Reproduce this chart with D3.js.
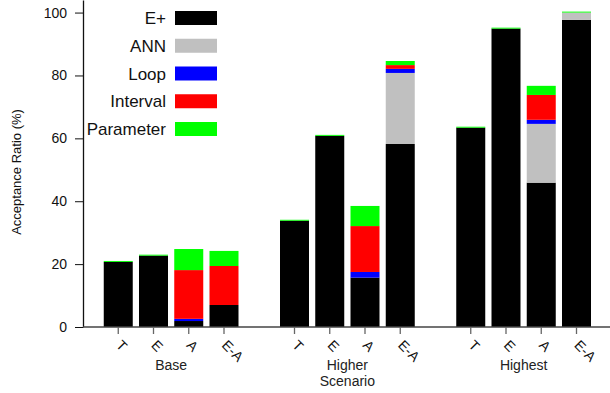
<!DOCTYPE html>
<html>
<head>
	<meta charset="utf-8">
	<script src="https://d3js.org/d3.v7.min.js"></script>
	<style>
		body { margin: 0; background: white; }
		svg { display: block; font-family: "Liberation Sans", Arial, sans-serif; }
	</style>
</head>
<body>
<script>

// categories
var groups = ["Base", "Higher", "Highest"];
var methods = ["T", "E", "A", "E-A"];
var series = ["E+", "ANN", "Loop", "Interval", "Parameter"];
var colors = ["#000000", "#c0c0c0", "#0000ff", "#ff0000", "#00ff00"];
var yTicks = [0, 20, 40, 60, 80, 100];

// values per series, order: Base T,E,A,E-A | Higher T,E,A,E-A | Highest T,E,A,E-A
var ePlus     = [20.7, 22.7, 1.9, 7.0,   33.8, 60.8, 15.7, 58.2,   63.4, 94.9, 45.9, 97.7];
var ann       = [0, 0, 0, 0,             0, 0, 0, 22.6,            0, 0, 18.7, 2.3];
var loop      = [0, 0, 0.7, 0,           0, 0, 1.8, 1.3,           0, 0, 1.3, 0];
var interval  = [0, 0, 15.5, 12.4,       0, 0, 14.6, 1.2,          0, 0, 7.9, 0];
var parameter = [0.3, 0.3, 6.7, 4.8,     0.3, 0.3, 6.4, 1.3,       0.3, 0.3, 2.9, 0.3];

var width = 610, height = 393;

var svg = d3.select("body").append("svg")
	.attr("width", width)
	.attr("height", height);

// build rows: slot index leaves an empty slot between groups
var rows = [];
groups.forEach(function(g, gi) {
	methods.forEach(function(m, mi) {
		var i = gi * methods.length + mi;
		rows.push({
			group: g, method: m, slot: gi * 5 + mi,
			"E+": ePlus[i], "ANN": ann[i], "Loop": loop[i],
			"Interval": interval[i], "Parameter": parameter[i]
		});
	});
});

var x = d3.scaleLinear()
	.domain([-1, 14])
	.range([83, 611.75]);

var y = d3.scaleLinear()
	.domain([0, 104])
	.range([327, 0]);

var barW = 29;

var color = d3.scaleOrdinal().domain(series).range(colors);

var stack = d3.stack().keys(series);
var layers = stack(rows);

svg.append("g").selectAll("g")
	.data(layers)
	.enter().append("g")
	.attr("fill", function(d) { return color(d.key); })
	.selectAll("rect")
	.data(function(d) { return d; })
	.enter().append("rect")
	.attr("x", function(d) { return x(d.data.slot) - barW / 2; })
	.attr("width", barW)
	.attr("y", function(d) { return y(d[1]); })
	.attr("height", function(d) { return y(d[0]) - y(d[1]); });

// y axis
var yAxis = svg.append("g")
	.attr("transform", "translate(83,0)")
	.call(d3.axisLeft(y).tickValues(yTicks).tickSize(8).tickPadding(8).tickSizeOuter(0));
yAxis.select(".domain").attr("stroke", "#111").attr("stroke-width", 1.3);
yAxis.selectAll(".tick line").attr("stroke", "#111");
yAxis.selectAll(".tick text").attr("font-size", 14).attr("fill", "#111")
	.attr("font-family", "Liberation Sans, Arial, sans-serif");

// x axis
var xAxis = svg.append("g").attr("transform", "translate(0,327)");
xAxis.append("line")
	.attr("x1", x.range()[0]).attr("x2", x.range()[1])
	.attr("stroke", "#444").attr("stroke-width", 1.3);
var xt = xAxis.selectAll(".xtick")
	.data(rows)
	.enter().append("g")
	.attr("class", "xtick")
	.attr("transform", function(d) { return "translate(" + x(d.slot) + ",0)"; });
xt.append("line").attr("y1", 0).attr("y2", 7).attr("stroke", "#666").attr("stroke-width", 1.3);
xt.append("text")
	.attr("transform", "translate(-3,19) rotate(45)")
	.attr("font-size", 14)
	.attr("fill", "#111")
	.text(function(d) { return d.method; });

// group labels
svg.selectAll(".glabel")
	.data(groups)
	.enter().append("text")
	.attr("class", "glabel")
	.attr("x", function(d, i) { return x(i * 5 + 1.5); })
	.attr("y", 370)
	.attr("text-anchor", "middle")
	.attr("font-size", 14)
	.attr("fill", "#222")
	.text(function(d) { return d; });

// axis title, under the middle group
svg.append("text")
	.attr("x", x(6.5))
	.attr("y", 386)
	.attr("text-anchor", "middle")
	.attr("font-size", 14)
	.attr("fill", "#222")
	.text("Scenario");

svg.append("text")
	.attr("transform", "translate(21,172) rotate(-90)")
	.attr("text-anchor", "middle")
	.attr("font-size", 13)
	.attr("fill", "#111")
	.text("Acceptance Ratio (%)");

// legend
var legend = svg.append("g").selectAll("g")
	.data(series)
	.enter().append("g")
	.attr("transform", function(d, i) { return "translate(0," + (18 + i * 27.75) + ")"; });
legend.append("rect")
	.attr("x", 175).attr("y", -7)
	.attr("width", 42).attr("height", 14)
	.attr("fill", function(d) { return color(d); });
legend.append("text")
	.attr("x", 166).attr("y", 6)
	.attr("text-anchor", "end")
	.attr("font-size", 17)
	.attr("fill", "#111")
	.text(function(d) { return d; });

</script>
</body>
</html>
